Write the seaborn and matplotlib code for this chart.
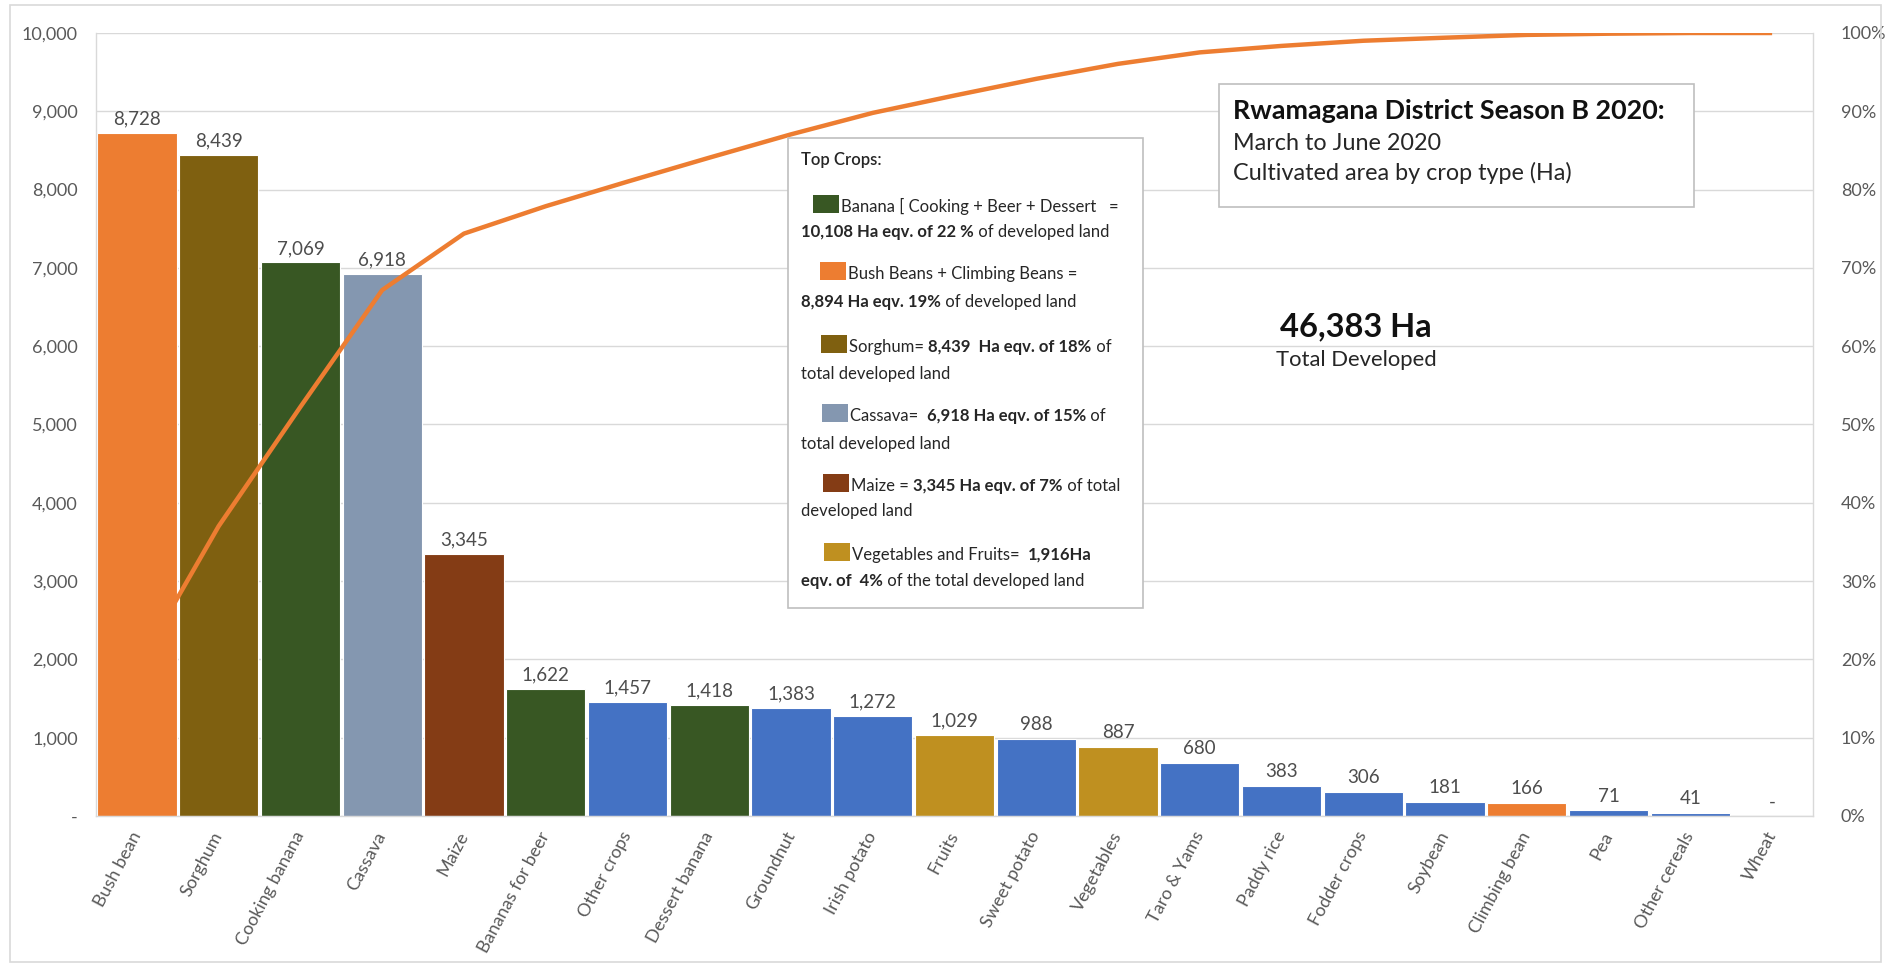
import numpy as np
import pandas as pd
import matplotlib
matplotlib.use("Agg")
import matplotlib.pyplot as plt
import seaborn as sns
from matplotlib.patches import Rectangle

# ---- data ----
crops = ["Bush bean", "Sorghum", "Cooking banana", "Cassava", "Maize",
         "Bananas for beer", "Other crops", "Dessert banana", "Groundnut",
         "Irish potato", "Fruits", "Sweet potato", "Vegetables", "Taro & Yams",
         "Paddy rice", "Fodder crops", "Soybean", "Climbing bean", "Pea",
         "Other cereals", "Wheat"]
area_ha = [8728, 8439, 7069, 6918, 3345, 1622, 1457, 1418, 1383, 1272, 1029,
           988, 887, 680, 383, 306, 181, 166, 71, 41, 0]
crop_group = ["beans", "sorghum", "banana", "cassava", "maize", "banana",
              "other", "banana", "other", "other", "vegfruit", "other",
              "vegfruit", "other", "other", "other", "other", "beans", "other",
              "other", "other"]
left_ticks = [0, 1000, 2000, 3000, 4000, 5000, 6000, 7000, 8000, 9000, 10000]
right_ticks = [0.0, 0.1, 0.2, 0.3, 0.4, 0.5, 0.6, 0.7, 0.8, 0.9, 1.0]

group_colors = {
    "beans": "#ED7D31",
    "sorghum": "#7F6010",
    "banana": "#385723",
    "cassava": "#8497B0",
    "maize": "#843C15",
    "vegfruit": "#BF9020",
    "other": "#4472C4",
}

df = pd.DataFrame({"crop": crops, "area": area_ha, "group": crop_group})
df["cum_share"] = df["area"].cumsum() / df["area"].sum()
total_area = df["area"].sum()

# ---- styling ----
sns.set_theme(style="white")
plt.rcParams["font.family"] = ["Lato", "DejaVu Sans"]
TXT = "#595959"
GRID = "#D9D9D9"

W, H = 1887, 966
fig = plt.figure(figsize=(W / 100, H / 100), dpi=100)
fig.patch.set_facecolor("white")


def fx(px):
    return px / W


def fy(py):
    return 1 - py / H


ax = fig.add_axes([fx(96), fy(816), fx(1813) - fx(96), fy(33) - fy(816)])

palette = {c: group_colors[g] for c, g in zip(crops, crop_group)}
sns.barplot(data=df, x="crop", y="area", hue="crop", palette=palette,
            dodge=False, legend=False, width=0.97, saturation=1,
            edgecolor="white", linewidth=0.8, ax=ax, zorder=2)

ax.set_xlim(-0.5, len(crops) - 0.5)
ax.set_ylim(0, 10000)
ax.set_yticks(left_ticks)
ax.set_yticklabels(["-" if v == 0 else f"{v:,}" for v in left_ticks],
                   fontsize=13, color=TXT)
ax.yaxis.grid(True, color=GRID, lw=1, zorder=0)
ax.set_axisbelow(True)
ax.set_xlabel("")
ax.set_ylabel("")
ax.tick_params(axis="both", length=0)
ax.tick_params(axis="y", pad=13)
ax.set_xticks(range(len(crops)))
ax.set_xticklabels(crops, rotation=62, ha="right", va="center",
                   rotation_mode="anchor", fontsize=13, color=TXT)
ax.tick_params(axis="x", pad=12)
ax.spines["top"].set_visible(False)
for side in ["left", "right", "bottom"]:
    ax.spines[side].set_color(GRID)
    ax.spines[side].set_linewidth(1)

for cont in ax.containers:
    ax.bar_label(cont, fmt=lambda v: "-" if v == 0 else f"{v:,.0f}",
                 padding=4, fontsize=13.5, color="#4D4D4D")

# cumulative share line on the secondary axis
ax2 = ax.twinx()
sns.lineplot(x=np.arange(len(crops)), y=df["cum_share"].to_numpy(), ax=ax2,
             color="#ED7D31", lw=3.2, solid_capstyle="butt")
ax2.set_ylim(0, 1)
ax2.set_yticks(right_ticks)
ax2.set_yticklabels([f"{int(round(v * 100))}%" for v in right_ticks],
                    fontsize=13, color=TXT)
ax2.tick_params(axis="y", length=0, pad=20)
for side in ax2.spines:
    ax2.spines[side].set_visible(False)
ax2.set_xlim(-0.5, len(crops) - 0.5)

# outer frame of the chart
fig.patches.append(Rectangle((fx(10), fy(962)), fx(1881) - fx(10),
                             fy(5) - fy(962), transform=fig.transFigure,
                             fill=False, edgecolor=GRID, lw=1.2))

# ---- title box ----
fig.patches.append(Rectangle((fx(1219), fy(207)), fx(1694) - fx(1219),
                             fy(84) - fy(207), transform=fig.transFigure,
                             facecolor="white", edgecolor="#BFBFBF", lw=1.2,
                             zorder=5))
fig.text(fx(1233), fy(111), "Rwamagana District Season B 2020:", fontsize=19.4,
         fontweight="bold", color="#111111", va="center", ha="left", zorder=6)
fig.text(fx(1233), fy(143), "March to June 2020", fontsize=16.8,
         color="#262626", va="center", ha="left", zorder=6)
fig.text(fx(1233), fy(173), "Cultivated area by crop type (Ha)", fontsize=16.8,
         color="#262626", va="center", ha="left", zorder=6)

fig.text(fx(1356), fy(327), f"{total_area:,} Ha", fontsize=23.5,
         fontweight="bold", color="#111111", va="center", ha="center")
fig.text(fx(1356), fy(360), "Total Developed", fontsize=15.8,
         color="#262626", va="center", ha="center")

# ---- "Top Crops" note box ----
fig.patches.append(Rectangle((fx(788), fy(608)), fx(1143) - fx(788),
                             fy(138) - fy(608), transform=fig.transFigure,
                             facecolor="white", edgecolor="#BFBFBF", lw=1.2,
                             zorder=5))
renderer = fig.canvas.get_renderer()
NOTE = "#262626"
NOTE_SIZE = 12


def rich_line(x_px, y_px, parts):
    """Draw a line made of plain and bold pieces, left to right."""
    x = x_px
    for s, bold in parts:
        t = fig.text(fx(x), fy(y_px), s, fontsize=NOTE_SIZE,
                     fontweight="bold" if bold else "normal", color=NOTE,
                     va="baseline", ha="left", zorder=6)
        bb = t.get_window_extent(renderer=renderer)
        x += bb.width


fig.text(fx(801), fy(160), "Top Crops:", fontsize=NOTE_SIZE,
         fontweight="semibold", color=NOTE, va="center", ha="left", zorder=6)

note_rows = [
    ("banana", 813, 207, 232,
     [("Banana [ Cooking + Beer + Dessert   =", False)],
     [("10,108 Ha eqv. of 22 %", True), (" of developed land", False)]),
    ("beans", 820, 274, 302,
     [("Bush Beans + Climbing Beans =", False)],
     [("8,894 Ha eqv. 19%", True), (" of developed land", False)]),
    ("sorghum", 821, 347, 374,
     [("Sorghum= ", False), ("8,439  Ha eqv. of 18%", True), (" of", False)],
     [("total developed land", False)]),
    ("cassava", 822, 416, 444,
     [("Cassava=  ", False), ("6,918 Ha eqv. of 15%", True), (" of", False)],
     [("total developed land", False)]),
    ("maize", 823, 486, 511,
     [("Maize = ", False), ("3,345 Ha eqv. of 7%", True), (" of total", False)],
     [("developed land", False)]),
    ("vegfruit", 824, 555, 581,
     [("Vegetables and Fruits=  ", False), ("1,916Ha", True)],
     [("eqv. of  4%", True), (" of the total developed land", False)]),
]
for grp, sq_x, y1, y2, line1, line2 in note_rows:
    fig.patches.append(Rectangle((fx(sq_x), fy(y1 + 6)), fx(26), fy(0) - fy(18),
                                 transform=fig.transFigure,
                                 facecolor=group_colors[grp], edgecolor="none",
                                 zorder=6))
    rich_line(sq_x + 28, y1 + 5, line1)
    rich_line(801, y2 + 5, line2)

fig.savefig("out.png", dpi=100, facecolor="white")
